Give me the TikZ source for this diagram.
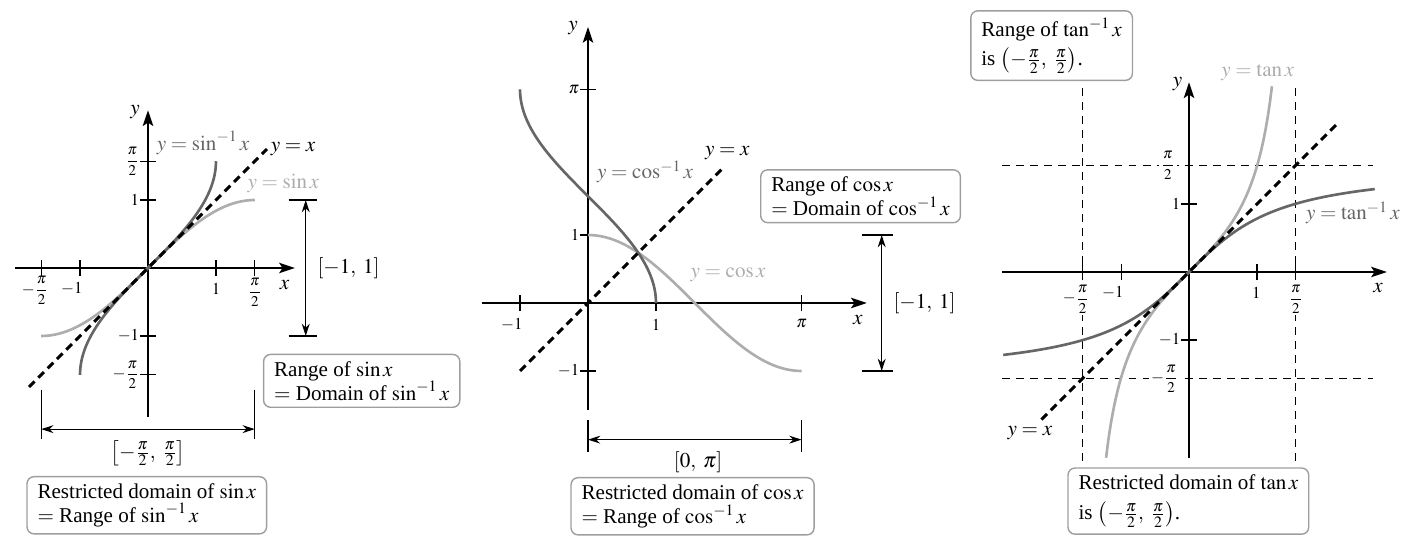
\documentclass[tikz,border=0pt]{standalone}
\usepackage{mathptmx}
\usepackage{fontspec}
\setmainfont{Liberation Serif}
\usepackage{tikz}
\usetikzlibrary{arrows.meta,positioning}

\definecolor{invcol}{gray}{0.40}
\definecolor{fncol}{gray}{0.68}
\definecolor{boxcol}{gray}{0.62}
\newcommand{\hpi}{{\fontsize{8.5}{9}\selectfont$\displaystyle\frac{\pi}{2}$}}

\begin{document}
\begin{tikzpicture}[
  x=0.02cm,y=-0.02cm,
  font=\fontsize{12}{13.5}\selectfont,
  axis/.style={line width=0.8pt,-{Stealth[length=9pt,width=6pt,inset=2pt]}},
  tick/.style={line width=0.6pt},
  ticklab/.style={font=\fontsize{9.5}{10}\selectfont,inner sep=1pt},
  inv/.style={draw=invcol,line width=1.5pt},
  fn/.style={draw=fncol,line width=1.5pt},
  diag/.style={line width=1.7pt,dash pattern=on 4.5pt off 3pt},
  guide/.style={line width=0.6pt,dash pattern=on 4.5pt off 3.5pt},
  note/.style={draw=boxcol,line width=0.8pt,rounded corners=4pt,align=left,
               inner xsep=6pt,inner ysep=4pt,anchor=west},
  span/.style={line width=0.7pt,{Stealth[length=7pt,width=4.5pt]}-{Stealth[length=7pt,width=4.5pt]}},
  bar/.style={line width=0.7pt}
]
\useasboundingbox (0,0) rectangle (1405,536);

% sine and arcsine
\begin{scope}[shift={(148,268)},x=1.36cm,y=1.36cm]
  \draw[axis] (-1.96,0) -- (2.16,0);
  \draw[axis] (0,-2.19) -- (0,2.32);
  \foreach \t in {-pi/2,-1,1,pi/2}{\draw[tick] (\t,-0.12) -- (\t,0.12);}
  \foreach \t in {-pi/2,-1,1,pi/2}{\draw[tick] (-0.12,\t) -- (0.12,\t);}
  \node[ticklab] (s-xa) at (-1.66,-0.33) {$-$\hpi};
  \node[ticklab] (s-xb) at (-1.12,-0.31) {$-1$};
  \node[ticklab] (s-xc) at (1,-0.31) {$1$};
  \node[ticklab] (s-xd) at (pi/2,-0.36) {\hpi};
  \node[ticklab,left] (s-ya) at (-0.1,pi/2) {\hpi};
  \node[ticklab,left] (s-yb) at (-0.1,1) {$1$};
  \node[ticklab,left] (s-yc) at (-0.1,-1) {$-1$};
  \node[ticklab,left] (s-yd) at (-0.1,-pi/2) {$-$\hpi};
  \node (s-x) at (2.01,-0.25) {$x$};
  \node (s-y) at (-0.19,2.29) {$y$};

  \draw[fn] plot[domain=-pi/2:pi/2,samples=60,smooth] (\x,{sin(\x r)});
  \draw[inv] plot[domain=-pi/2:pi/2,samples=60,smooth] ({sin(\x r)},\x);
  \coordinate (s-d0) at (-1.75,-1.75);
  \coordinate (s-d1) at (1.75,1.75);
  \draw[diag] (s-d0) -- (s-d1);
  \node[right,inner sep=2pt] (s-dl) at (s-d1) {$y=x$};
  \node[text=invcol] (s-il) at (0.81,1.84) {$y=\sin^{-1}x$};
  \node[text=fncol] (s-fl) at (1.99,1.25) {$y=\sin x$};

  \coordinate (s-r1) at (2.32,1);
  \coordinate (s-r0) at (2.32,-1);
  \draw[bar] (2.07,1) -- (2.49,1);
  \draw[bar] (2.07,-1) -- (2.49,-1);
  \draw[span] (s-r1) -- (s-r0);
  \node (s-rl) at (2.95,0) {$[-1,\;1]$};

  \coordinate (s-w0) at (-pi/2,-2.37);
  \coordinate (s-w1) at (pi/2,-2.37);
  \draw[bar] (-pi/2,-1.79) -- (-pi/2,-2.51);
  \draw[bar] (pi/2,-1.79) -- (pi/2,-2.51);
  \draw[span] (s-w0) -- (s-w1);
  \node (s-wl) at (0,-2.72) {$\bigl[-\frac{\pi}{2},\;\frac{\pi}{2}\bigr]$};

  \node[note] (s-range) at (1.69,-1.66) {Range of $\sin x$\\$=$ Domain of $\sin^{-1}x$};
  \node[note] (s-dom) at (-1.79,-3.49) {Restricted domain of $\sin x$\\$=$ Range of $\sin^{-1}x$};
\end{scope}

% cosine and arccosine
\begin{scope}[shift={(588,303)},x=1.36cm,y=1.36cm]
  \draw[axis] (-1.56,0) -- (4.1,0);
  \draw[axis] (0,-1.57) -- (0,4.06);
  \foreach \t in {-1,1,pi}{\draw[tick] (\t,-0.12) -- (\t,0.12);}
  \foreach \t in {-1,1,pi}{\draw[tick] (-0.12,\t) -- (0.12,\t);}
  \node[ticklab] (c-xa) at (-1.12,-0.32) {$-1$};
  \node[ticklab] (c-xb) at (1,-0.32) {$1$};
  \node[ticklab] (c-xc) at (pi,-0.3) {$\pi$};
  \node[ticklab,left] (c-ya) at (-0.1,pi) {$\pi$};
  \node[ticklab,left] (c-yb) at (-0.1,1) {$1$};
  \node[ticklab,left] (c-yc) at (-0.1,-1) {$-1$};
  \node (c-x) at (3.97,-0.25) {$x$};
  \node (c-y) at (-0.22,4.04) {$y$};

  \draw[fn] plot[domain=0:pi,samples=60,smooth] (\x,{cos(\x r)});
  \draw[inv] plot[domain=0:pi,samples=60,smooth] ({cos(\x r)},\x);
  \coordinate (c-d0) at (-1,-1);
  \coordinate (c-d1) at (2,2);
  \draw[diag] (c-d0) -- (c-d1);
  \node (c-dl) at (2.05,2.2) {$y=x$};
  \node[text=invcol] (c-il) at (0.84,1.93) {$y=\cos^{-1}x$};
  \node[text=fncol] (c-fl) at (2.06,0.41) {$y=\cos x$};

  \node[note] (c-range) at (2.53,1.57) {Range of $\cos x$\\$=$ Domain of $\cos^{-1}x$};
  \coordinate (c-r1) at (4.32,1);
  \coordinate (c-r0) at (4.32,-1);
  \draw[bar] (4.03,1) -- (4.49,1);
  \draw[bar] (4.03,-1) -- (4.49,-1);
  \draw[span] (c-r1) -- (c-r0);
  \node (c-rl) at (4.95,0) {$[-1,\;1]$};

  \coordinate (c-w0) at (0,-2.01);
  \coordinate (c-w1) at (pi,-2.01);
  \draw[bar] (0,-1.72) -- (0,-2.19);
  \draw[bar] (pi,-1.72) -- (pi,-2.19);
  \draw[span] (c-w0) -- (c-w1);
  \node (c-wl) at (1.62,-2.34) {$[0,\;\pi]$};

  \node[note] (c-dom) at (-0.26,-2.99) {Restricted domain of $\cos x$\\$=$ Range of $\cos^{-1}x$};
\end{scope}

% tangent and arctangent
\begin{scope}[shift={(1189,272)},x=1.36cm,y=1.36cm]
  \draw[guide] (-pi/2,2.71) -- (-pi/2,-2.79);
  \draw[guide] (pi/2,2.71) -- (pi/2,-2.79);
  \draw[guide] (-2.75,pi/2) -- (2.71,pi/2);
  \draw[guide] (-2.75,-pi/2) -- (2.71,-pi/2);
  \draw[axis] (-2.75,0) -- (2.91,0);
  \draw[axis] (0,-2.74) -- (0,2.79);
  \foreach \t in {-pi/2,-1,1,pi/2}{\draw[tick] (\t,-0.12) -- (\t,0.12);}
  \foreach \t in {-1,1}{\draw[tick] (-0.12,\t) -- (0.12,\t);}
  \node[ticklab,fill=white] (t-xa) at (-1.66,-0.4) {$-$\hpi};
  \node[ticklab] (t-xb) at (-1.12,-0.31) {$-1$};
  \node[ticklab] (t-xc) at (0.99,-0.31) {$1$};
  \node[ticklab,fill=white] (t-xd) at (pi/2,-0.4) {\hpi};
  \node[ticklab,fill=white] (t-ya) at (-0.31,pi/2) {\hpi};
  \node[ticklab,left] (t-yb) at (-0.1,1) {$1$};
  \node[ticklab,left] (t-yc) at (-0.1,-1) {$-1$};
  \node[ticklab,fill=white] (t-yd) at (-0.36,-pi/2) {$-$\hpi};
  \node (t-x) at (2.78,-0.24) {$x$};
  \node (t-y) at (-0.17,2.76) {$y$};

  \draw[fn] plot[domain=-1.22:1.22,samples=80,smooth] (\x,{tan(\x r)});
  \draw[inv] plot[domain=-1.22:1.22,samples=80,smooth] ({tan(\x r)},\x);
  \coordinate (t-d0) at (-2.17,-2.17);
  \coordinate (t-d1) at (2.2,2.2);
  \draw[diag] (t-d0) -- (t-d1);
  \node (t-dl) at (-2.34,-2.37) {$y=x$};
  \node[text=fncol] (t-fl) at (1.01,2.93) {$y=\tan x$};
  \node[text=invcol] (t-il) at (2.41,0.87) {$y=\tan^{-1}x$};

  \node[note] (t-range) at (-3.22,3.33) {Range of $\tan^{-1}x$\\[3.5pt]is $\bigl(-\frac{\pi}{2},\;\frac{\pi}{2}\bigr)$.};
  \node[note] (t-dom) at (-1.79,-3.37) {Restricted domain of $\tan x$\\[3.5pt]is $\bigl(-\frac{\pi}{2},\;\frac{\pi}{2}\bigr)$.};
\end{scope}
\end{tikzpicture}
\end{document}
